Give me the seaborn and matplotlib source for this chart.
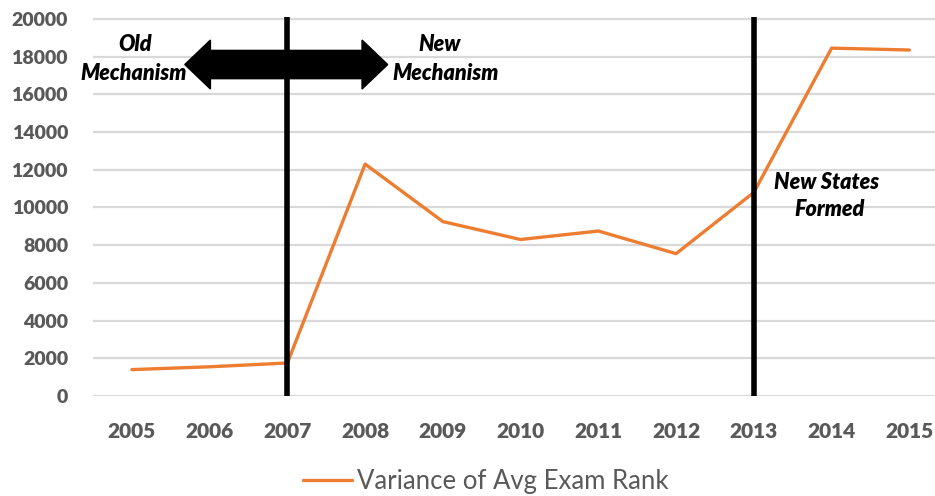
import matplotlib
matplotlib.use("Agg")
import matplotlib.pyplot as plt
import matplotlib.patches as mpatches
import pandas as pd
import seaborn as sns

# data
years = ["2005", "2006", "2007", "2008", "2009", "2010",
         "2011", "2012", "2013", "2014", "2015"]
variance = [1400, 1550, 1750, 12300, 9250, 8300, 8750, 7550, 10800, 18450, 18350]
series_name = "Variance of Avg Exam Rank"
y_ticks = list(range(0, 20001, 2000))
event_years = ["2007", "2013"]

ORANGE = "#ED7D31"
GREY = "#595959"

sns.set_theme(style="white")
plt.rcParams["font.family"] = ["Lato", "DejaVu Sans"]

df = pd.DataFrame({"year": years, "value": variance})

fig = plt.figure(figsize=(9.35, 4.96), dpi=100)
ax = fig.add_axes([0.0995, 0.2016, 0.9005, 0.7641])

for y in y_ticks:
    ax.axhline(y, color="#d9d9d9", lw=1.6, zorder=0)

sns.lineplot(data=df, x="year", y="value", color=ORANGE, lw=2.4,
             ax=ax, label=series_name, legend=False, zorder=3)

# event markers
for yr in event_years:
    ax.axvline(years.index(yr), color="black", lw=4, zorder=4)

# double-headed arrow (old -> new mechanism)
mid, left, right, ya = 1.985, 0.68, 3.29, 17580
for end in (left, right):
    ax.add_patch(mpatches.FancyArrow(mid, ya, end - mid, 0, width=1500,
                                     head_width=2600, head_length=0.33,
                                     length_includes_head=True,
                                     color="black", zorder=5))

txt = dict(fontsize=15.5, fontweight="heavy", fontstyle="italic",
           color="black", ha="center", va="center", zorder=6)
ax.text(0.04, 18620, "Old", **txt)
ax.text(0.02, 17130, "Mechanism", **txt)
ax.text(3.96, 18620, "New", **txt)
ax.text(4.04, 17130, "Mechanism", **txt)
ax.text(8.93, 11300, "New States", **txt)
ax.text(8.97, 9870, "Formed", **txt)

ax.set_xlim(-0.5, 10.33)
ax.set_ylim(0, 20100)
ax.set_yticks(y_ticks)
ax.set_yticklabels([str(v) for v in y_ticks])
ax.set_xlabel("")
ax.set_ylabel("")
ax.tick_params(axis="x", length=0, pad=19, labelsize=15, labelcolor=GREY)
ax.tick_params(axis="y", length=0, pad=18, labelsize=14, labelcolor=GREY)
for lab in ax.get_xticklabels() + ax.get_yticklabels():
    lab.set_fontweight("heavy")
sns.despine(ax=ax, left=True, bottom=True)

handles, labels = ax.get_legend_handles_labels()
fig.legend(handles, labels, loc="center", bbox_to_anchor=(0.52, 0.03),
           frameon=False, fontsize=18.5, labelcolor=GREY, handlelength=1.9,
           handletextpad=0.2)

fig.savefig("out.png", dpi=100)
